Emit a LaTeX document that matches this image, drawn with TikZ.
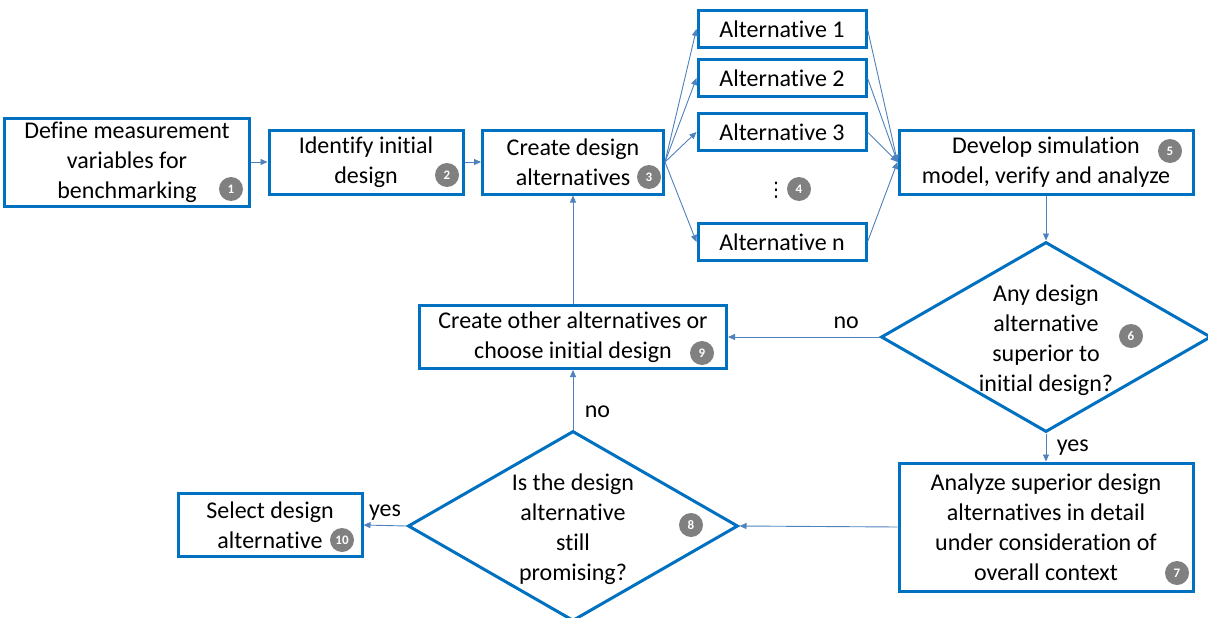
\documentclass[tikz,border=0pt]{standalone}
\usepackage{fontspec}
\setmainfont{Carlito}[Ligatures=NoCommon]
\newfontfamily\symfont{DejaVu Sans}
\usetikzlibrary{shapes.geometric,arrows.meta}
\definecolor{boxblue}{RGB}{0,112,192}
\definecolor{lineblue}{RGB}{79,129,189}
\definecolor{badgegray}{RGB}{128,128,128}

\begin{document}
\begin{tikzpicture}[x=1pt, y=-1pt,
	every node/.style={font=\fontsize{24}{30}\selectfont},
	box/.style={draw=boxblue, line width=3pt, fill=white, align=center, inner sep=0pt},
	decision/.style={diamond, draw=boxblue, line width=3pt, inner sep=0pt, minimum width=330pt, minimum height=190pt},
	link/.style={draw=lineblue, line width=0.9pt, -{Triangle[length=7pt, width=6pt]}},
	badge/.style={circle, fill=badgegray, text=white, inner sep=0pt, minimum size=24pt, font=\bfseries\fontsize{13}{13}\selectfont}]
	\useasboundingbox (0, 0) rectangle (1208, 618);

	% main row
	\node [box, minimum width=245pt, minimum height=88pt] (n1) at (127, 162) {Define measurement\\variables for\\benchmarking};
	\node [box, minimum width=194pt, minimum height=64pt] (n2) at (366, 162) {Identify initial\\design};
	\node [box, minimum width=181pt, minimum height=64pt] (n3) at (573, 162) {Create design\\alternatives};
	\node [box, minimum width=168pt, minimum height=37pt] (a1) at (782, 29) {Alternative 1};
	\node [box, minimum width=168pt, minimum height=37pt] (a2) at (782, 78) {Alternative 2};
	\node [box, minimum width=168pt, minimum height=37pt] (a3) at (782, 132) {Alternative 3};
	\node [box, minimum width=168pt, minimum height=37pt] (an) at (782, 242) {Alternative n};
	\node (dots) at (776, 190) {\symfont\fontsize{20}{20}\selectfont ⋮};
	\node [box, minimum width=294pt, minimum height=64pt] (n5) at (1046, 162) {Develop simulation\\model, verify and analyze};

	% decisions and the way back
	\node [decision, label={[align=center, yshift=-3pt]center:{Any design\\alternative\\superior to\\initial design?}}] (d6) at (1046, 337) {};
	\node [box, minimum width=294pt, minimum height=128pt] (n7) at (1046, 527) {Analyze superior design\\alternatives in detail\\under consideration of\\overall context};
	\node [decision, label={[align=center, yshift=-3pt]center:{Is the design\\alternative\\still\\promising?}}] (d8) at (573, 526) {};
	\node [box, minimum width=307pt, minimum height=63pt] (n9) at (573, 337) {Create other alternatives or\\choose initial design};
	\node [box, minimum width=184pt, minimum height=63pt] (n10) at (270, 525) {Select design\\alternative};

	\draw [link] (n1) -- (n2);
	\draw [link] (n2) -- (n3);
	\foreach \a in {a1, a2, a3, an} {
		\draw [link] (n3.east) -- (\a.west);
		\draw [link] (\a.east) -- (n5.west);
	}
	\draw [link] (n5) -- (d6.north);
	\draw [link] (d6.west) -- node [above=5pt, pos=0.22] (no6) {no} (n9.east);
	\draw [link] (d6.south) -- node [right, pos=0.5, xshift=7pt] (yes6) {yes} (n7.north);
	\draw [link] (n7.west) -- (d8.east);
	\draw [link] (d8.west) -- node [above, yshift=1pt] (yes8) {yes} (n10.east);
	\draw [link] (d8.north) -- node [right, pos=0.3, xshift=8pt] (no8) {no} (n9.south);
	\draw [link] (n9) -- (n3);

	% step numbers
	\node [badge] (b1) at (231, 189) {1};
	\node [badge] (b2) at (447, 175) {2};
	\node [badge] (b3) at (649, 177) {3};
	\node [badge] (b4) at (799, 189) {4};
	\node [badge] (b5) at (1170, 151) {5};
	\node [badge] (b6) at (1131, 336) {6};
	\node [badge] (b7) at (1177, 573) {7};
	\node [badge] (b8) at (691, 525) {8};
	\node [badge] (b9) at (702, 353) {9};
	\node [badge] (b10) at (342, 540) {10};
\end{tikzpicture}
\end{document}
